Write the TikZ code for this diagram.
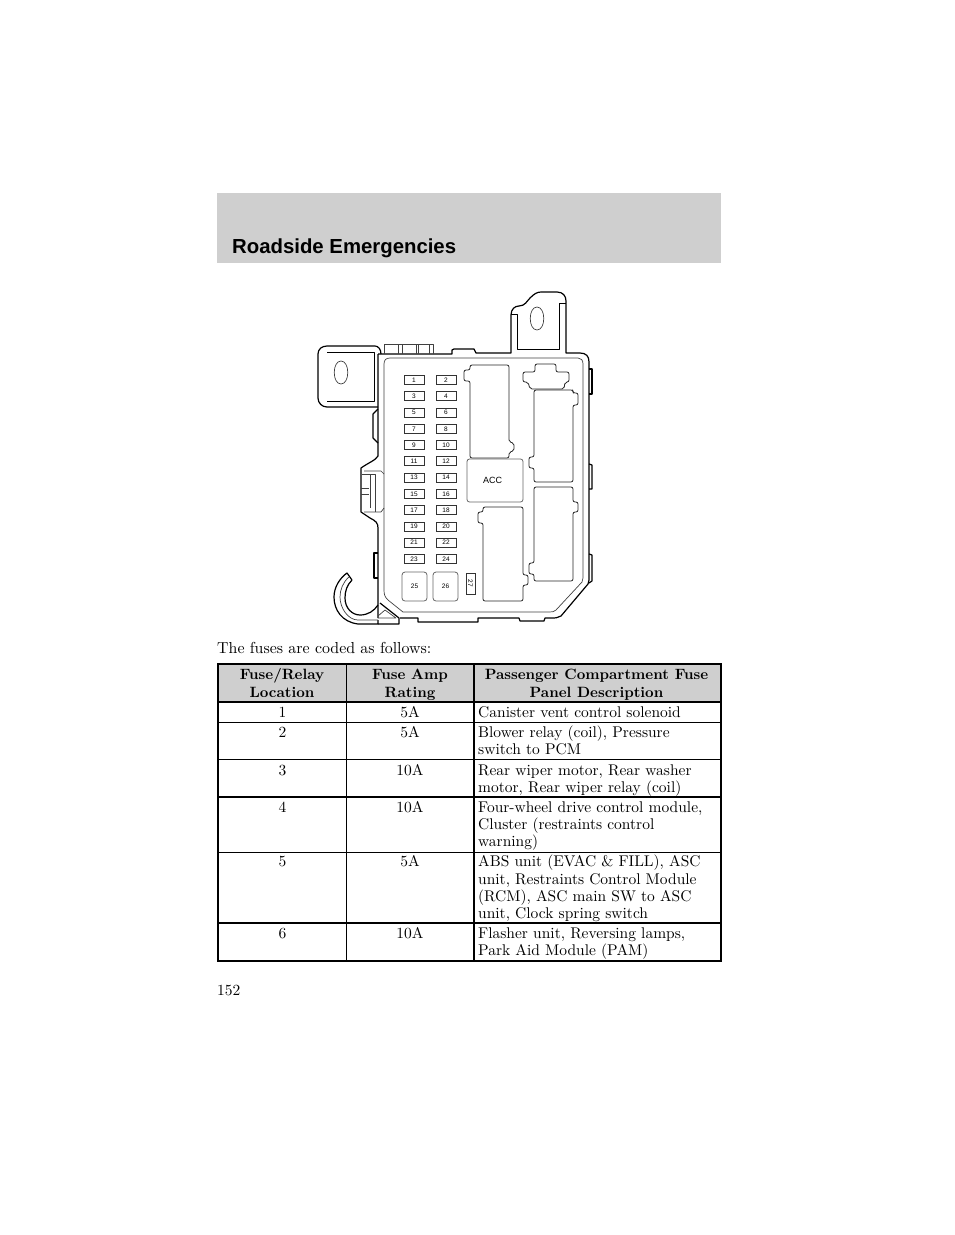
\documentclass[tikz,border=0pt]{standalone}
\usepackage{fontspec}
\setmainfont{lmroman10-regular.otf}[BoldFont=lmroman10-bold.otf]
\newfontfamily\headfont{Liberation Sans}
\tikzset{
	outline/.style={line width=1.2pt,line join=round},
	inner/.style={line width=0.7pt,draw=black!75,line join=round},
	relay/.style={line width=0.8pt,draw=black!85,rounded corners=2pt},
	fuse/.style={rectangle,draw=black!80,line width=0.8pt,minimum width=20pt,minimum height=9pt,inner sep=0pt,font=\headfont\fontsize{6.5}{7}\selectfont},
	bigfuse/.style={rectangle,draw=black!60,line width=0.8pt,rounded corners=3pt,minimum width=25pt,minimum height=29pt,inner sep=0pt,font=\headfont\fontsize{6.5}{7}\selectfont},
	plain/.style={inner sep=0pt,font=\fontsize{15.5}{17.1}\selectfont},
	cell/.style={plain,anchor=base west,align=left},
	mid/.style={plain,anchor=base,align=center},
	head/.style={inner sep=0pt,anchor=base,align=center,font=\fontsize{14.9}{17.1}\selectfont\bfseries},
	thinrule/.style={line width=0.9pt},
	thickrule/.style={line width=1.6pt}
}
\begin{document}
\begin{tikzpicture}[x=1pt,y=-1pt]
	\useasboundingbox (0,0) rectangle (954,1235);
	% title band
	\fill[black!19] (217,193) rectangle (721,263);
	\node(title)[anchor=base west,inner sep=0pt,font=\headfont\bfseries\fontsize{20.35}{24}\selectfont] at (232,253){Roadside Emergencies};

	% housing
	\draw[outline] (378,354)--(452,354)--(452,350)--(454,349)--(474,349)--(476,353)--(511,353)--(511,315)
		.. controls (511,309) and (515,306) .. (519,306) .. controls (525,306) and (527,301) .. (530,298)
		.. controls (534,294) and (537,292) .. (541,292)--(557,292) .. controls (563,292) and (566,296) .. (566,301)
		--(566,353)--(580,353) .. controls (586,353) and (589,356) .. (589,362)--(589,580)--(588,584)--(561,616)
		.. controls (558,618) and (555,618) .. (551,618)--(545,618)--(544,621)--(520,621)--(519,618)--(478,618)--(478,622)--(418,622)--(418,618)--(400,618);
	\draw[outline] (378,354)--(378,456) .. controls (376,460) and (368,463) .. (361,468)
		--(361,512)--(370,518) .. controls (376,521) and (378,523) .. (378,528)--(378,618);
	\draw[outline] (378,409)--(373,414)--(373,438)--(378,443);
	\draw[outline] (378,553)--(374,553)--(374,578)--(378,578);
	\draw[outline] (589,369)--(592,369)--(592,394)--(589,394);
	\draw[outline] (589,464)--(592,465)--(592,489)--(589,489);
	\draw[outline] (589,554)--(592,555)--(592,581)--(589,583);
	% inner wall
	\draw[inner] (384,364) .. controls (384,360) and (386,358) .. (390,358)--(578,358) .. controls (581,358) and (583,360) .. (583,364)
		--(583,578)--(582,582)--(556,610) .. controls (554,612) and (552,612) .. (549,612)--(403,612)--(388,600) .. controls (385,597) and (384,595) .. (384,590)--cycle;
	% left mounting tab
	\draw[outline] (378,407)--(327,407) .. controls (322,407) and (318,403) .. (318,398)--(318,354) .. controls (318,349) and (322,346) .. (327,346)
		--(375,346) .. controls (378,346) and (381,349) .. (381,354);
	\draw[outline,line width=1pt] (327,352)--(374,352)--(374,401)--(327,401);
	\draw[inner] (341,361) .. controls (350,361) and (350,384) .. (341,384) .. controls (332,384) and (332,361) .. (341,361)--cycle;
	% upper mounting tab
	\draw[outline,line width=1pt] (511,314)--(517,314)--(517,349)--(559,349)--(559,303)--(566,303);
	\draw[inner] (537,307) .. controls (546,307) and (546,330) .. (537,330) .. controls (528,330) and (528,307) .. (537,307)--cycle;
	% connector on top
	\draw[inner,line width=1pt] (384,354)--(384,344)--(433,344)--(433,354) (398,344)--(398,354) (402,344)--(402,354) (416,344)--(416,354) (418,344)--(418,354) (429,344)--(429,354);
	% latch
	\draw[inner] (364,471)--(381,471)--(384,474) (384,508)--(381,512)--(364,512);
	\draw[inner] (362,474)--(375,474)--(375,512) (370,474)--(370,508) (361,488)--(369,488) (361,494)--(369,494);
	% hook
	\draw[outline] (378,620)--(378,624)--(358,624) .. controls (342,622) and (334,610) .. (334,597) .. controls (334,587) and (340,578) .. (347,573)--(352,580)
		.. controls (347,585) and (345,591) .. (345,598) .. controls (345,608) and (352,615) .. (360,615) .. controls (368,615) and (374,611) .. (378,605);
	\draw[inner] (349,577) .. controls (343,582) and (340,590) .. (340,597) .. controls (340,608) and (348,620) .. (358,620)--(378,620);
	\draw[outline] (378,624)--(399,624)--(399,618)--(380,603);
	\draw[inner] (378,616)--(385,610)--(396,618)--(378,618);

	% relay sockets
	\draw[relay] (470,365)--(509,365)--(509,442)--(514,443)--(514,451)--(509,452)--(509,458)--(470,458)--(470,381)--(464,381)--(464,370)--(470,370)--cycle;
	\draw[relay] (535,364)--(556,364)--(556,372)--(569,372)--(569,382)--(565,382)--(564,389)--(530,389)--(528,382)--(523,382)--(523,372)--(535,372)--cycle;
	\draw[relay] (534,390)--(573,390)--(573,393)--(578,393)--(578,405)--(573,405)--(573,482)--(534,482)--(534,468)--(529,468)--(529,457)--(534,457)--cycle;
	\draw[relay] (534,487)--(573,487)--(573,502)--(578,502)--(578,512)--(573,512)--(573,581)--(534,581)--(534,574)--(529,574)--(529,563)--(534,563)--cycle;
	\draw[relay] (483,507)--(523,507)--(523,575)--(528,575)--(528,585)--(523,585)--(523,601)--(483,601)--(483,523)--(478,523)--(478,512)--(483,512)--cycle;

	% fuses
	\foreach \n in {1,3,...,23}
		\node(fuse\n)[fuse] at (414,{380+(\n-1)*8.136}){\n};
	\foreach \n in {2,4,...,24}
		\node(fuse\n)[fuse] at (446,{380+(\n-2)*8.136}){\n};
	\node(fuse25)[bigfuse] at (414.5,586.5){25};
	\node(fuse26)[bigfuse] at (445.5,586.5){26};
	\node(fuse27)[fuse,minimum width=21pt,minimum height=9pt,rotate=-90] at (470.5,583.5){27};
	\node(acc)[rectangle,draw=black!60,line width=0.8pt,rounded corners=2.5pt,minimum width=56pt,minimum height=43pt,inner sep=0pt,font=\headfont\fontsize{9}{10}\selectfont,text depth=0pt] at (495,480.5){\makebox[0pt][c]{\hspace{-5pt}ACC}};

	\node(caption)[cell,font=\fontsize{15.9}{17}\selectfont] at (217,653){The fuses are coded as follows:};

	% table
	\fill[black!19] (218,664) rectangle (721,702);
	\draw[thickrule] (218,664) rectangle (721,961);
	\draw[thickrule] (218,702)--(721,702) (218,797)--(721,797) (218,923)--(721,923);
	\draw[thinrule] (218,722)--(721,722) (218,759)--(721,759) (218,852)--(721,852);
	\draw[thinrule] (346.5,664)--(346.5,961);
	\draw[line width=1.3pt] (474,664)--(474,961);

	\node(h1)[head] at (282,697){Fuse/Relay\\Location};
	\node(h2)[head] at (410,697){Fuse Amp\\Rating};
	\node(h3)[head] at (596.5,697){Passenger Compartment Fuse\\Panel Description};

	\path (282.5,717) node(a1)[mid]{1}
	(410,717) node(b1)[mid]{5A}
	(478,717) node(c1)[cell]{Canister vent control solenoid}
	(282.5,737) node(a2)[mid]{2}
	(410,737) node(b2)[mid]{5A}
	(478,754.2) node(c2)[cell]{Blower relay (coil), Pressure\\switch to PCM}
	(282.5,775) node(a3)[mid]{3}
	(410,775) node(b3)[mid]{10A}
	(478,792.2) node(c3)[cell]{Rear wiper motor, Rear washer\\motor, Rear wiper relay (coil)}
	(282.5,812) node(a4)[mid]{4}
	(410,812) node(b4)[mid]{10A}
	(478,846.2) node(c4)[cell]{Four-wheel drive control module,\\Cluster (restraints control\\warning)}
	(282.5,866) node(a5)[mid]{5}
	(410,866) node(b5)[mid]{5A}
	(478,918.2) node(c5)[cell]{ABS unit (EVAC \& FILL), ASC\\unit, Restraints Control Module\\(RCM), ASC main SW to ASC\\unit, Clock spring switch}
	(282.5,938) node(a6)[mid]{6}
	(410,938) node(b6)[mid]{10A}
	(478,955.2) node(c6)[cell]{Flasher unit, Reversing lamps,\\Park Aid Module (PAM)};

	\node(page)[cell] at (217,995){152};
\end{tikzpicture}
\end{document}
